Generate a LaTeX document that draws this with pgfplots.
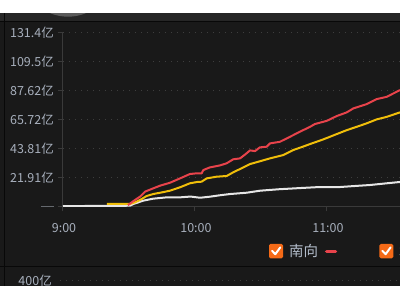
\documentclass[border=0pt]{standalone}
\usepackage{pgfplots}
\pgfplotsset{compat=1.18}
\usepackage{fontspec}
\setmainfont{Noto Sans CJK SC}
\definecolor{bg}{HTML}{191919}
\definecolor{strip}{HTML}{262626}
\definecolor{blackline}{HTML}{080808}
\definecolor{blobgray}{HTML}{5a5a5a}
\definecolor{axisgray}{HTML}{3a3a3a}
\definecolor{gridgray}{HTML}{3e3e3e}
\definecolor{labelcolor}{HTML}{A7AFBC}
\definecolor{legendtext}{HTML}{B2BCCA}
\definecolor{redline}{HTML}{E8434B}
\definecolor{yellowline}{HTML}{F0BE0A}
\definecolor{whiteline}{HTML}{E6E6E6}
\definecolor{checkorange}{HTML}{F56A17}
\pgfplotstableread{
t v
0 0.3
26 0.5
30.5 0.6
32 1.9
34 3.0
36.5 4.4
41 5.9
47.1 6.9
53.2 6.9
58 7.5
62.3 6.6
66.8 7.4
71 8.4
75.9 9.4
83.5 10.4
89.5 11.9
98 13.0
107.7 13.9
116.8 14.7
126 14.7
133 15.5
139.5 16.2
146 17.3
153.2 18.5
}\whitedata
\pgfplotstableread{
t v
20 1.9
30.5 1.9
32.5 3.0
35 4.9
38 7.9
41 9.4
44.5 10.5
48.6 11.9
53.2 14.5
57.7 17.5
61 18.5
63 18.7
65.3 21.2
69.9 22.5
74.4 23.0
77.4 25.8
82 29.5
85 32.0
89.5 34.1
94.1 36.3
100.1 38.8
104.7 42.6
108.5 44.8
112.3 47.1
118.3 50.6
124.4 54.6
129 57.6
133.5 60.1
138 62.7
142.6 65.7
147.1 67.6
153.2 71.0
}\yellowdata
\pgfplotstableread{
t v
29.5 1.0
30.5 2.2
32.7 4.9
35 7.4
37.3 11.2
40.3 13.2
44.1 15.7
48.6 17.9
53.2 21.2
57.7 24.5
60 24.9
63 25.0
63.8 27.5
66.8 29.5
71.4 31.0
74.4 32.6
77.4 35.6
80.5 36.3
83 39.5
85 42.3
87.3 41.8
89.5 44.6
92.6 45.1
94.1 47.6
98.6 48.8
103.2 52.6
107.7 56.4
112.3 60.1
114.5 62.2
119.9 64.6
124.4 68.2
129 71.0
132 74.0
138 77.2
142.6 81.0
147.1 82.7
153.2 87.8
}\reddata
\begin{document}
\begin{tikzpicture}[x=1pt,y=1pt]
\useasboundingbox (0,0) rectangle (400,300);
\clip (0,0) rectangle (400,300);
\fill[bg] (0,0) rectangle (400,300);
% top header strip
\fill[strip] (0,279) rectangle (400,286.7);
\begin{scope}
\clip (0,279) rectangle (400,286.7);
\fill[blobgray] (68,330.3) circle (47);
\end{scope}
\fill[white] (0,286.7) rectangle (400,300);
\fill[blackline] (0,278.4) rectangle (400,279.4);
\fill[blackline] (3.5,14) rectangle (4.5,287);
\fill[blackline] (0,32.8) rectangle (400,33.8);
% lower panel
\draw[gridgray, line width=1pt, dash pattern=on 1pt off 5pt] (59.5,19) -- (400,19);
\node[anchor=east, inner sep=0pt, text=labelcolor, font=\fontsize{12.5}{14}\selectfont] at (52,19) {400亿};
\fill[white] (0,0) rectangle (400,14);

\begin{axis}[
  at={(63pt,93.5pt)}, anchor=south west,
  scale only axis, width=337pt, height=174.2pt,
  xmin=0, xmax=153.2, ymin=0, ymax=131.4,
  axis x line*=bottom, axis y line*=left,
  axis line style={draw=axisgray, line width=1pt, -},
  xtick={0,60,120}, xticklabels={9:00,10:00,11:00},
  ytick={0,21.905,43.81,65.715,87.62,109.525,131.4},
  yticklabels={{\color{axisgray!60!labelcolor}\rule{13pt}{1pt}},21.91亿,43.81亿,65.72亿,87.62亿,109.5亿,131.4亿},
  tick align=outside, major tick length=5pt,
  tick style={draw=axisgray, line width=1pt},
  ymajorgrids,
  grid style={draw=gridgray, line width=1pt, dash pattern=on 1pt off 5pt},
  ticklabel style={font=\fontsize{12.5}{14}\selectfont, text=labelcolor, inner sep=0pt},
  yticklabel style={xshift=-4pt},
  xticklabel style={yshift=-11.5pt, xshift=1pt},
  every axis plot/.append style={line width=2pt, line join=round, mark=none},
]
\addplot[whiteline] table[x=t,y=v] {\whitedata};
\addplot[yellowline] table[x=t,y=v] {\yellowdata};
\addplot[redline] table[x=t,y=v] {\reddata};
\end{axis}

% legend
\fill[checkorange, rounded corners=1.5pt] (269,41.7) rectangle (283,56);
\draw[white, line width=2pt, line cap=round, line join=round] (272,49.2) -- (275.3,45.8) -- (280.3,52.6);
\node[anchor=west, inner sep=0pt, text=legendtext, font=\fontsize{14.5}{16}\selectfont] at (288.8,48.7) {南向};
\draw[redline, line width=3.3pt, line cap=round] (326.6,48.3) -- (335.6,48.3);
\fill[checkorange, rounded corners=1.5pt] (379.3,41.7) rectangle (393.3,56);
\draw[white, line width=2pt, line cap=round, line join=round] (382.3,49.2) -- (385.6,45.8) -- (390.6,52.6);
\node[anchor=west, inner sep=0pt, text=legendtext, font=\fontsize{14.5}{16}\selectfont] at (398.8,48.7) {北向};
\end{tikzpicture}
\end{document}
